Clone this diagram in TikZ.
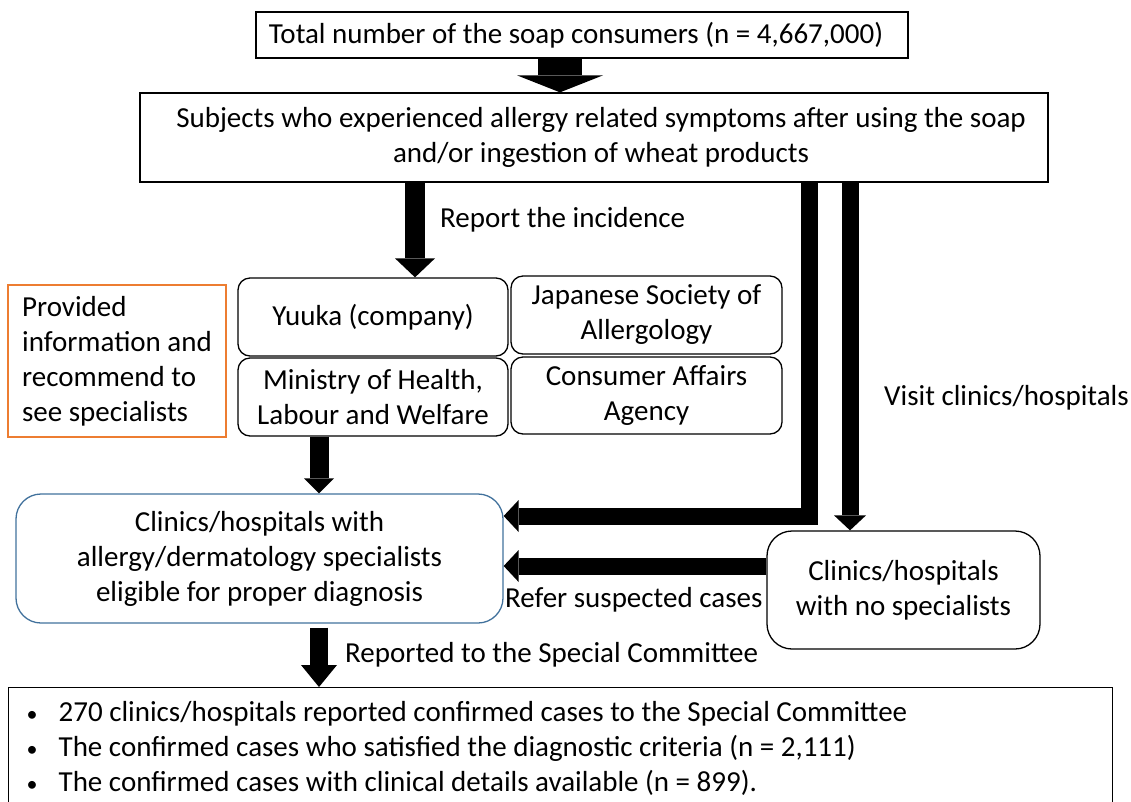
\documentclass[tikz,border=0pt]{standalone}
\usepackage{fontspec}
\setmainfont{Carlito}
\usepackage{xcolor}
\usepackage{tikz}
\usetikzlibrary{arrows.meta}
\usetikzlibrary{positioning}
\usetikzlibrary{calc}
\definecolor{boxorange}{HTML}{ED7D31}
\definecolor{boxblue}{HTML}{41719C}

\begin{document}
\begin{tikzpicture}[x=1pt, y=-1pt,
	font=\fontsize{29}{35}\selectfont,
	box/.style={draw=black, line width=1.3pt, inner sep=0pt, align=center},
	rbox/.style={box, rounded corners=12pt},
	lbl/.style={anchor=west, inner sep=0pt},
	fat/.style={line width=17pt, line join=miter, -{Triangle[width=32pt, length=15pt, line width=0pt]}},
	]
	\newcommand\dotmark{\makebox[42pt][l]{\hspace{10pt}{\fontsize{22}{22}\selectfont\textbullet}}}
	\useasboundingbox (0,0) rectangle (1131,801);
	% boxes
	\node[box, minimum width=652, minimum height=46] (total) at (582,35) {\hspace{-12pt}Total number of the soap consumers (n = 4,667,000)};
	\node[box, minimum width=908, minimum height=89] (subjects) at (594,137.5) {\hspace{14pt}Subjects who experienced allergy related symptoms after using the soap\\\hspace{14pt}and/or ingestion of wheat products};
	\node[rbox, minimum width=270, minimum height=78] (yuuka) at (373,317) {Yuuka (company)};
	\node[rbox, minimum width=271, minimum height=78] (jsa) at (646.5,315) {Japanese Society of\\Allergology};
	\node[rbox, minimum width=270, minimum height=78] (mhlw) at (373,397) {Ministry of Health,\\Labour and Welfare};
	\node[rbox, minimum width=271, minimum height=77] (caa) at (646.5,395.5) {Consumer Affairs\\Agency};
	\node[box, draw=boxorange, align=left, minimum width=218, minimum height=152] (info) at (117,361) {Provided\\information and\\recommend to\\see specialists};
	\node[box, draw=boxblue, rounded corners=25pt, minimum width=487, minimum height=129] (spec) at (259.5,558.5) {Clinics/hospitals with\\allergy/dermatology specialists\\eligible for proper diagnosis};
	\node[box, rounded corners=25pt, minimum width=273, minimum height=118] (nospec) at (903.5,590) {Clinics/hospitals\\with no specialists};
	\node[box, anchor=north west, align=flush left, minimum width=1104, minimum height=122, text width=1088, inner xsep=8pt] (result) at (8,687) {%
		\dotmark 270 clinics/hospitals reported confirmed cases to the Special Committee\\
		\dotmark The confirmed cases who satisfied the diagnostic criteria (n = 2,111)\\
		\dotmark The confirmed cases with clinical details available (n = 899).};
	% labels
	\node[lbl] (report) at (440,220) {Report the incidence};
	\node[lbl] (visit) at (884,398) {Visit clinics/hospitals};
	\node[lbl] (refer) at (505,600) {Refer suspected cases};
	\node[lbl] (committee) at (345,655) {Reported to the Special Committee};
	% arrows
	\draw[line width=44pt, -{Triangle[width=86pt, length=17pt, line width=0pt]}] (total.south -| 560,0) -- (subjects.north -| 560,0);
	\draw[line width=20pt, -{Triangle[width=40pt, length=19pt, line width=0pt]}] (subjects.south -| 415,0) -- (yuuka.north -| 415,0);
	\draw[fat] (subjects.south -| 809,0) |- (spec.east |- 0,516);
	\draw[fat] (subjects.south -| 850,0) -- (nospec.north -| 850,0);
	\draw[fat] (nospec.west |- 0,566) -- (spec.east |- 0,566);
	\draw[line width=19pt, -{Triangle[width=30pt, length=15pt, line width=0pt]}] (mhlw.south -| 319,0) -- (spec.north -| 319,0);
	\draw[line width=18pt, -{Triangle[width=36pt, length=22pt, line width=0pt]}] (spec.south -| 319,0) ++(0,4) -- (result.north -| 319,0);
\end{tikzpicture}
\end{document}
